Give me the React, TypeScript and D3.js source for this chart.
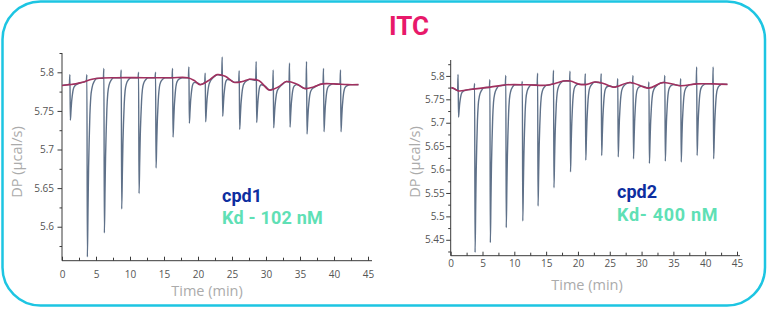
import React, { useEffect, useRef } from "react";
import * as d3 from "d3";

const W = 769;
const H = 309;

const xTicks = [0, 5, 10, 15, 20, 25, 30, 35, 40, 45];
const xMinorTicks = [2.5, 7.5, 12.5, 17.5, 22.5, 27.5, 32.5, 37.5, 42.5];
const leftYTicks = [5.6, 5.65, 5.7, 5.75, 5.8];
const leftYMinor = [5.575, 5.625, 5.675, 5.725, 5.775, 5.825];
const rightYTicks = [5.45, 5.5, 5.55, 5.6, 5.65, 5.7, 5.75, 5.8];
const rightYMinor = [5.425, 5.475, 5.525, 5.575, 5.625, 5.675, 5.725, 5.775, 5.825];

// Left (cpd1) injections
const leftInjTimes = [1.2, 3.7, 6.2, 8.75, 11.3, 13.8, 16.3, 18.7, 21.1, 23.6, 26.1, 28.6, 31.1, 33.5, 36.0, 38.5, 41.0];
const leftInjTops = [5.797, 5.797, 5.805, 5.803, 5.8, 5.8, 5.805, 5.807, 5.799, 5.82, 5.802, 5.814, 5.803, 5.812, 5.814, 5.805, 5.803];
const leftInjMins = [5.738, 5.561, 5.592, 5.623, 5.643, 5.676, 5.716, 5.734, 5.736, 5.743, 5.726, 5.735, 5.728, 5.729, 5.72, 5.723, 5.723];
const leftBaseT = [0, 1, 2, 3, 4, 5, 8, 12, 16, 18.5, 19.5, 20.3, 21.5, 22.8, 24, 25.3, 26.5, 27.6, 29, 30.5, 31.8, 33, 34.5, 35.7, 37, 38.3, 40, 42, 43.6];
const leftBaseV = [5.783, 5.784, 5.785, 5.787, 5.79, 5.792, 5.793, 5.793, 5.793, 5.793, 5.789, 5.784, 5.789, 5.797, 5.795, 5.787, 5.788, 5.791, 5.789, 5.777, 5.781, 5.788, 5.785, 5.779, 5.781, 5.785, 5.785, 5.784, 5.784];

// Right (cpd2) injections
const rightInjTimes = [1.2, 3.8, 6.2, 8.7, 11.3, 13.7, 16.2, 18.8, 21.2, 23.7, 26.3, 28.7, 31.2, 33.7, 36.2, 38.7, 41.3];
const rightInjTops = [5.803, 5.784, 5.792, 5.801, 5.788, 5.806, 5.812, 5.81, 5.805, 5.805, 5.794, 5.801, 5.787, 5.801, 5.794, 5.819, 5.819];
const rightInjMins = [5.712, 5.423, 5.444, 5.476, 5.49, 5.522, 5.561, 5.595, 5.62, 5.63, 5.627, 5.623, 5.613, 5.618, 5.616, 5.63, 5.623];
const rightBaseT = [0.1, 0.5, 1.2, 3, 6.2, 8.8, 12, 15.1, 16.4, 17.7, 18.8, 20.3, 21.4, 22.7, 24, 25.6, 28.2, 31.1, 33.4, 36.1, 38.7, 41.3, 43.5];
const rightBaseV = [5.775, 5.773, 5.768, 5.771, 5.776, 5.781, 5.781, 5.78, 5.784, 5.789, 5.789, 5.782, 5.782, 5.787, 5.784, 5.776, 5.786, 5.774, 5.786, 5.779, 5.783, 5.783, 5.782];

// Peak recovery profile (minutes after minimum, fraction of depth left)
const recoveryDt = [0.1, 0.18, 0.27, 0.37, 0.5, 0.7, 1.0, 1.35];
const recoveryFrac = [0.72, 0.5, 0.34, 0.2, 0.1, 0.045, 0.015, 0];

type Cfg = {
  injT: number[]; tops: number[]; mins: number[]; baseT: number[]; baseV: number[];
  x0: number; x1: number; axisEndX: number; yTop: number; yBot: number;
  yDomain: [number, number]; yTicks: number[]; yMinor: number[];
  xLabelPad: number; yLabelPad: number; tickFont: number;
  yTitleX: number; xTitleX: number; xTitleY: number;
  name: string; kd: string; legX: number; legY1: number; legY2: number; kdSpacing: number;
};

function buildTrace(c: Cfg): [number, number][] {
  const base = d3.scaleLinear().domain(c.baseT).range(c.baseV).clamp(true);
  const pts: [number, number][] = [];
  c.baseT.forEach((t, i) => {
    if (!c.injT.some((ti) => t > ti - 0.15 && t < ti + 1.4)) pts.push([t, c.baseV[i]]);
  });
  c.injT.forEach((ti, k) => {
    const depth = base(ti) - c.mins[k];
    pts.push([ti - 0.12, base(ti - 0.12)]);
    pts.push([ti - 0.04, c.tops[k]]);
    pts.push([ti + 0.03, c.mins[k]]);
    recoveryDt.forEach((dt, j) => {
      const t = ti + 0.03 + dt;
      pts.push([t, base(t) - depth * recoveryFrac[j]]);
    });
  });
  pts.sort((a, b) => a[0] - b[0]);
  return pts;
}

function drawChart(svg: d3.Selection<SVGSVGElement, unknown, null, undefined>, c: Cfg) {
  const x = d3.scaleLinear().domain([0, 45]).range([c.x0, c.x1]);
  const y = d3.scaleLinear().domain(c.yDomain).range([c.yBot, c.yTop]);
  const g = svg.append("g");
  const axisColor = "#3a3a3a";
  const labelColor = "#555";
  const font = "'Open Sans', 'DejaVu Sans', sans-serif";

  g.append("line").attr("x1", c.x0).attr("x2", c.axisEndX).attr("y1", c.yBot).attr("y2", c.yBot)
    .attr("stroke", axisColor).attr("stroke-width", 1);
  g.append("line").attr("x1", c.x0).attr("x2", c.x0).attr("y1", c.yTop).attr("y2", c.yBot)
    .attr("stroke", axisColor).attr("stroke-width", 1);

  const xa = d3.axisBottom(x).tickValues(xTicks).tickSizeInner(-4).tickSizeOuter(0).tickPadding(c.xLabelPad)
    .tickFormat((d) => String(d));
  const xg = g.append("g").attr("transform", `translate(0,${c.yBot})`).call(xa);
  xg.select(".domain").remove();
  xg.selectAll("line").attr("stroke", axisColor);
  xg.selectAll("text").attr("fill", labelColor).attr("font-size", c.tickFont).attr("font-family", font);
  const xm = d3.axisBottom(x).tickValues(xMinorTicks).tickSize(-3).tickFormat(() => "");
  const xmg = g.append("g").attr("transform", `translate(0,${c.yBot})`).call(xm);
  xmg.select(".domain").remove();
  xmg.selectAll("line").attr("stroke", axisColor);

  const ya = d3.axisLeft(y).tickValues(c.yTicks).tickSizeInner(4.5).tickSizeOuter(0).tickPadding(c.yLabelPad)
    .tickFormat((d) => String(+(+d).toFixed(2)));
  const yg = g.append("g").attr("transform", `translate(${c.x0},0)`).call(ya);
  yg.select(".domain").remove();
  yg.selectAll("line").attr("stroke", axisColor);
  yg.selectAll("text").attr("fill", labelColor).attr("font-size", c.tickFont).attr("font-family", font);
  const ym = d3.axisLeft(y).tickValues(c.yMinor).tickSize(2.5).tickFormat(() => "");
  const ymg = g.append("g").attr("transform", `translate(${c.x0},0)`).call(ym);
  ymg.select(".domain").remove();
  ymg.selectAll("line").attr("stroke", axisColor);

  const trace = buildTrace(c);
  const line = d3.line<[number, number]>().x((d) => x(d[0])).y((d) => y(d[1])).curve(d3.curveMonotoneX);
  g.append("path").attr("d", line(trace)).attr("fill", "none").attr("stroke", "#5f7189")
    .attr("stroke-width", 1.4).attr("stroke-linejoin", "round");

  const bpts: [number, number][] = c.baseT.map((t, i) => [t, c.baseV[i]]);
  const bline = d3.line<[number, number]>().x((d) => x(d[0])).y((d) => y(d[1])).curve(d3.curveCatmullRom.alpha(0.5));
  g.append("path").attr("d", bline(bpts)).attr("fill", "none").attr("stroke", "#a0305f")
    .attr("stroke-width", 1.6);

  g.append("text").attr("transform", `translate(${c.yTitleX},${(53 + 261) / 2 + 5}) rotate(-90)`)
    .attr("text-anchor", "middle").attr("fill", "#ababab").attr("font-size", 14.5).attr("font-family", font)
    .text("DP (µcal/s)");
  g.append("text").attr("x", c.xTitleX).attr("y", c.xTitleY).attr("text-anchor", "middle")
    .attr("fill", "#ababab").attr("font-size", 14.5).attr("font-family", font).text("Time (min)");

  g.append("text").attr("x", c.legX).attr("y", c.legY1).attr("fill", "#0d2ea0")
    .attr("font-size", 18).attr("font-weight", 700).attr("font-family", "Roboto, sans-serif").text(c.name);
  g.append("text").attr("x", c.legX).attr("y", c.legY2).attr("fill", "#5fe0b5")
    .attr("font-size", 18).attr("font-weight", 700).attr("letter-spacing", c.kdSpacing)
    .attr("font-family", "Roboto, sans-serif").text(c.kd);
}

export default function App() {
  const ref = useRef<SVGSVGElement>(null);
  useEffect(() => {
    const svg = d3.select(ref.current as SVGSVGElement);
    svg.selectAll("*").remove();
    svg.append("rect").attr("x", 2.5).attr("y", 1.5).attr("width", 762.5).attr("height", 304)
      .attr("rx", 38).attr("ry", 38).attr("fill", "#fff").attr("stroke", "#1dc5e2").attr("stroke-width", 2.5);
    svg.append("text").attr("x", 409).attr("y", 35).attr("text-anchor", "middle").attr("fill", "#e8196a")
      .attr("font-size", 26).attr("font-weight", 700).attr("font-family", "Roboto, sans-serif").text("ITC");

    drawChart(svg, {
      injT: leftInjTimes, tops: leftInjTops, mins: leftInjMins, baseT: leftBaseT, baseV: leftBaseV,
      x0: 62, x1: 368, axisEndX: 372, yTop: 53, yBot: 260.7, yDomain: [5.556, 5.825],
      yTicks: leftYTicks, yMinor: leftYMinor, xLabelPad: 10, yLabelPad: 3.5, tickFont: 10,
      yTitleX: 22, xTitleX: 207, xTitleY: 296,
      name: "cpd1", kd: "Kd - 102 nM", legX: 222, legY1: 202, legY2: 224, kdSpacing: 0.2,
    });
    drawChart(svg, {
      injT: rightInjTimes, tops: rightInjTops, mins: rightInjMins, baseT: rightBaseT, baseV: rightBaseV,
      x0: 450.7, x1: 737, axisEndX: 740, yTop: 60, yBot: 255.7, yDomain: [5.416, 5.834],
      yTicks: rightYTicks, yMinor: rightYMinor, xLabelPad: 4, yLabelPad: 1.5, tickFont: 10,
      yTitleX: 420, xTitleX: 587, xTitleY: 290,
      name: "cpd2", kd: "Kd- 400 nM", legX: 617, legY1: 198, legY2: 221, kdSpacing: 0.7,
    });
  }, []);
  return (
    <svg ref={ref} width={W} height={H} style={{ position: "absolute", left: 0, top: 0, display: "block" }} />
  );
}
